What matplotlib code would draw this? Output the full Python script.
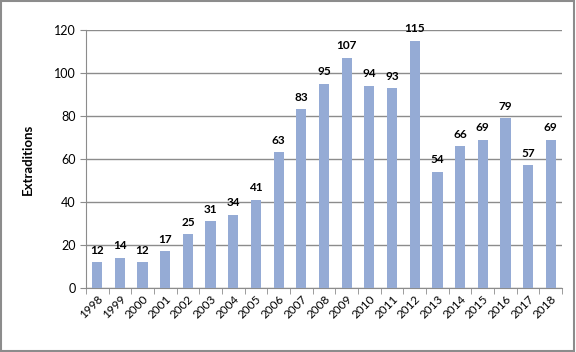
import matplotlib.pyplot as plt
from matplotlib.patches import Rectangle

plt.rcParams['font.family'] = ['Lato', 'DejaVu Sans']

years = [str(y) for y in range(1998, 2019)]
extraditions = [12, 14, 12, 17, 25, 31, 34, 41, 63, 83, 95, 107, 94, 93, 115,
                54, 66, 69, 79, 57, 69]
yticks = [0, 20, 40, 60, 80, 100, 120]

fig = plt.figure(figsize=(5.76, 3.52), dpi=100)
ax = fig.add_axes([0.149, 0.182, 0.827, 0.733])

x = range(len(years))
ax.bar(x, extraditions, width=0.45, color='#95abd5', zorder=3)
for i, v in zip(x, extraditions):
    ax.text(i, v + 3, str(v), ha='center', va='bottom', fontsize=8.5,
            fontweight='bold', zorder=4)

ax.set_xlim(-0.5, len(years) - 0.5)
ax.set_ylim(0, 120)
ax.set_yticks(yticks)
ax.yaxis.grid(True, color='#8c8c8c', lw=1, zorder=0)
ax.set_xticks(x)
ax.set_xticklabels(years, rotation=45, ha='right', rotation_mode='anchor',
                   fontsize=8.5)
ax.tick_params(axis='x', length=0, pad=4)
ax.set_xticks([i - 0.5 for i in range(len(years) + 1)], minor=True)
ax.tick_params(axis='x', which='minor', length=4, color='#8c8c8c')
ax.tick_params(axis='y', labelsize=9, length=4, color='#8c8c8c')
for s in ['top', 'right']:
    ax.spines[s].set_visible(False)
for s in ['left', 'bottom']:
    ax.spines[s].set_color('#8c8c8c')
ax.set_ylabel('Extraditions', fontsize=9.5, fontweight='bold', labelpad=14)

fig.patches.append(Rectangle((0.002, 0.003), 0.995, 0.993, transform=fig.transFigure,
                             fill=False, edgecolor='#8c8c8c', lw=1.5))

fig.savefig('out.png', dpi=100)
